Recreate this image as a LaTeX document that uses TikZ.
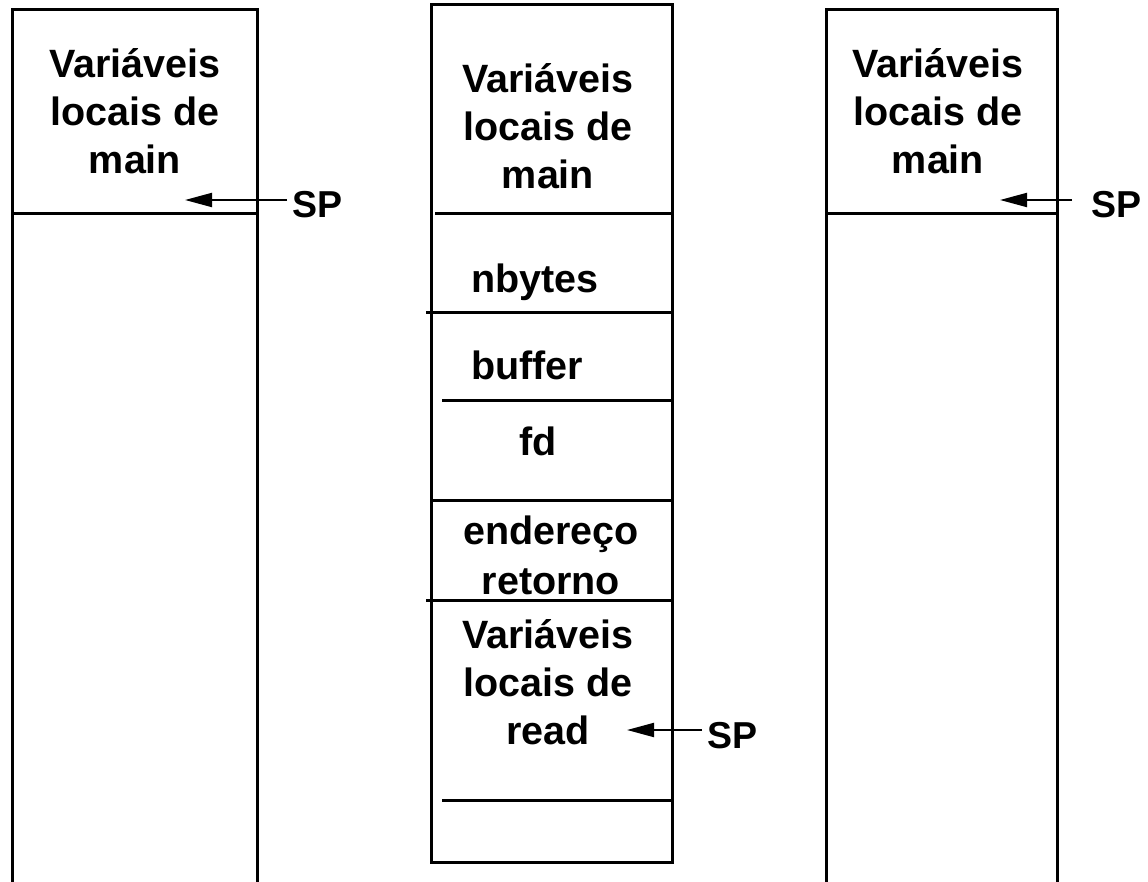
\documentclass[tikz,border=0pt]{standalone}
\usepackage{fontspec}
\setmainfont{Liberation Sans}
\usetikzlibrary{arrows.meta}
\begin{document}
\begin{tikzpicture}[x=1pt,y=-1pt,
  wall/.style={line width=3pt},
  label/.style={font=\bfseries\fontsize{39.5}{48}\selectfont, align=center, inner sep=0pt, anchor=base},
  leftlabel/.style={font=\bfseries\fontsize{39.5}{48}\selectfont, inner sep=0pt, anchor=base west},
  sptag/.style={font=\bfseries\fontsize{37.5}{43}\selectfont, inner ysep=0pt, inner xsep=5pt, anchor=base west},
  ptr/.style={line width=2pt, -{Triangle[length=27pt,width=14pt]}}]
\useasboundingbox (0,0) rectangle (1148,882);

% stack before the call
\draw[wall] (12,882) -- (12,10) -- (257,10) -- (257,882);
\draw[wall] (12,214) -- (257,214);
\node[label] (mainL) at (135,174) {Variáveis\\locais de\\main};
\coordinate (tipL) at (185,200);
\node[sptag] (spL) at (287,218) {SP};
\draw[ptr] (tipL -| spL.west) -- (tipL);

% stack during the call to read
\draw[wall] (431,5) rectangle (672,862);
\draw[wall] (435,214) -- (672,214);
\draw[wall] (426,313) -- (672,313);
\draw[wall] (442,400) -- (672,400);
\draw[wall] (431,500) -- (672,500);
\draw[wall] (426,600) -- (672,600);
\draw[wall] (442,800) -- (672,800);
\node[label] (mainM) at (548,189) {Variáveis\\locais de\\main};
\node[leftlabel] (nbytes) at (471,293) {nbytes};
\node[leftlabel] (buffer) at (471,379) {buffer};
\node[label] (fd) at (538,455) {fd};
\node[label] (ret) at (551,594) {endereço\\[2pt]retorno};
\node[label] (readM) at (548,744) {Variáveis\\locais de\\read};
\coordinate (tipM) at (627,730);
\node[sptag] (spM) at (702,748) {SP};
\draw[ptr] (tipM -| spM.west) -- (tipM);

% stack after the return
\draw[wall] (826,882) -- (826,10) -- (1057,10) -- (1057,882);
\draw[wall] (826,214) -- (1057,214);
\node[label] (mainR) at (938,174) {Variáveis\\locais de\\main};
\coordinate (tipR) at (1000,200);
\node[sptag, inner xsep=19pt] (spR) at (1072,218) {SP};
\draw[ptr] (tipR -| spR.west) -- (tipR);
\end{tikzpicture}
\end{document}
